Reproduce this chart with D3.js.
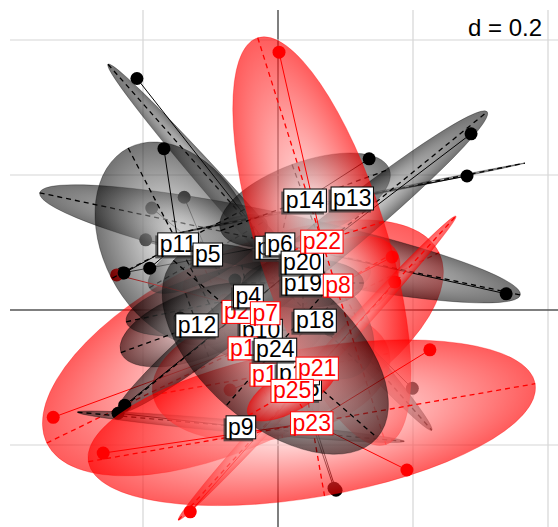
<!DOCTYPE html>
<html>
<head>
<meta charset="utf-8">
<script src="https://cdn.jsdelivr.net/npm/d3@7"></script>
<style>
  html, body { margin: 0; padding: 0; background: #fff; }
  svg { display: block; font-family: "Liberation Sans", Arial, sans-serif; }
</style>
</head>
<body>
<svg id="chart" width="558" height="527"></svg>
<script>
// Class factor levels and their colour
const groupNames = ["p1","p2","p3","p4","p5","p6","p7","p8","p9","p10","p11","p12","p13",
                    "p14","p15","p16","p17","p18","p19","p20","p21","p22","p23","p24","p25"];
const groupColours = ["red","red","black","black","black","black","red","red","black","black",
                      "black","black","black","black","black","black","red","black","black",
                      "black","red","red","red","black","red"];

// Class centroids (axis 1, axis 2)
const centreX = [-0.052,-0.061,-0.012,-0.044,-0.104, 0.003,-0.019, 0.089,-0.055,-0.025,
                 -0.148,-0.120, 0.110, 0.040, 0.030, 0.033,-0.010, 0.055, 0.037, 0.036,
                  0.058, 0.065, 0.050,-0.004, 0.021];
const centreY = [-0.056,-0.002, 0.093, 0.021, 0.083, 0.098,-0.004, 0.037,-0.173,-0.030,
                  0.098,-0.022, 0.166, 0.163,-0.093,-0.116,-0.095,-0.015, 0.040, 0.071,
                 -0.086, 0.102,-0.167,-0.058,-0.119];

// Inertia ellipses: semi-axes and orientation (degrees)
const ellipseA = [0.323,0.090,0.362,0.185,0.100,0.364,0.080,0.100,0.243,0.090,0.160,0.120,0.261,
                  0.133,0.060,0.045,0.178,0.104,0.090,0.353,0.305,0.316,0.336,0.200,0.075];
const ellipseB = [0.141,0.035,0.019,0.047,0.035,0.045,0.030,0.060,0.009,0.045,0.111,0.050,0.002,
                  0.056,0.015,0.020,0.096,0.067,0.037,0.033,0.013,0.096,0.110,0.111,0.030];
const ellipseAngle = [25.9,-30,-48.5,12,30,-12,20,30,-5.1,0,-62.5,20,11.4,
                      20,-72,-60,10,-45,0,39.1,47.6,-72.5,9.9,-41,30];

// Individuals of each class (star branches)
const groupPoints = [
  [[-0.333,-0.159],[0.120,0.050]],
  [[-0.0785,0.0148]],
  [[-0.209,0.343],[0.199,-0.116]],
  [[-0.0637,0.0444],[0.0178,0.0667]],
  [[-0.139,0.167],[-0.187,0.151],[-0.196,0.104]],
  [[0.338,0.024],[-0.230,0.055]],
  [[-0.239,0.052],[0.062,0.030]],
  [[0.169,0.0785]],
  [[-0.237,-0.153]],
  [[-0.0415,-0.0148]],
  [[-0.169,0.239],[-0.228,0.055],[-0.190,0.062]],
  [[-0.145,-0.0119]],
  [[0.280,0.1985]],
  [[0.135,0.224]],
  [[0.086,-0.267]],
  [[0.083,-0.264]],
  [[-0.071,-0.1185]],
  [[0.077,-0.0296]],
  [[0.0622,0.0519]],
  [[0.286,0.261],[-0.227,-0.141]],
  [[-0.130,-0.299],[0.173,0.0415]],
  [[0.0015,0.382]],
  [[-0.259,-0.212],[0.191,-0.237],[0.225,-0.059]],
  [[0.0326,-0.0919]],
  [[0.0326,-0.1037]]
];

// Order in which labels are stacked (last on top)
const labelOrder = ["p3","p19","p10","p2","p16","p17","p15","p1","p13","p14","p11","p5","p6",
                    "p20","p22","p4","p7","p8","p12","p18","p24","p21","p25","p23","p9"];

const gridX = [-0.4,-0.2,0,0.2,0.4];
const gridY = [-0.4,-0.2,0,0.2,0.4];
const gridLabel = "d = 0.2";

const svg = d3.select("#chart");
const x = d3.scaleLinear().domain([0, 0.2]).range([278, 413]);
const y = d3.scaleLinear().domain([0, 0.2]).range([310, 175]);
const len = v => x(v) - x(0);

const groups = groupNames.map((name, i) => ({
  name, colour: groupColours[i], cx: centreX[i], cy: centreY[i],
  a: ellipseA[i], b: ellipseB[i], angle: ellipseAngle[i], points: groupPoints[i]
}));

const defs = svg.append("defs");
defs.append("clipPath").attr("id", "panel")
  .append("rect").attr("x", 10).attr("y", 10).attr("width", 548).attr("height", 517);
["black","red"].forEach(c => {
  const g = defs.append("radialGradient").attr("id", "fade-" + c);
  g.append("stop").attr("offset", "0%").attr("stop-color", "#ffffff");
  g.append("stop").attr("offset", "100%").attr("stop-color", c);
});

const panel = svg.append("g").attr("clip-path", "url(#panel)");

// grid
panel.append("g").selectAll("line").data(gridX).join("line")
  .attr("x1", d => x(d)).attr("x2", d => x(d)).attr("y1", 10).attr("y2", 527)
  .attr("stroke", d => d === 0 ? "#555" : "#d6d6d6").attr("stroke-width", d => d === 0 ? 1.5 : 1.2);
panel.append("g").selectAll("line").data(gridY).join("line")
  .attr("y1", d => y(d)).attr("y2", d => y(d)).attr("x1", 10).attr("x2", 558)
  .attr("stroke", d => d === 0 ? "#555" : "#d6d6d6").attr("stroke-width", d => d === 0 ? 1.5 : 1.2);

// classes: ellipse, axes, stars, points
groups.forEach(gr => {
  const g = panel.append("g");
  const cx = x(gr.cx), cy = y(gr.cy);
  const rot = `translate(${cx},${cy}) rotate(${-gr.angle})`;
  g.append("ellipse")
    .attr("transform", rot)
    .attr("rx", len(gr.a)).attr("ry", Math.max(len(gr.b), 0.8))
    .attr("fill", `url(#fade-${gr.colour})`)
    .attr("fill-opacity", gr.colour === "red" ? 0.64 : 0.55)
    .attr("stroke", gr.colour).attr("stroke-opacity", 0.35).attr("stroke-width", 0.8);
  const ax = g.append("g").attr("transform", rot)
    .attr("stroke", gr.colour).attr("stroke-width", 1.3).attr("stroke-dasharray", "5,4");
  ax.append("line").attr("x1", -len(gr.a)).attr("x2", len(gr.a)).attr("y1", 0).attr("y2", 0);
  ax.append("line").attr("y1", -len(gr.b)).attr("y2", len(gr.b)).attr("x1", 0).attr("x2", 0);
  g.selectAll("line.star").data(gr.points).join("line").attr("class", "star")
    .attr("x1", cx).attr("y1", cy).attr("x2", d => x(d[0])).attr("y2", d => y(d[1]))
    .attr("stroke", gr.colour).attr("stroke-width", 1);
  g.selectAll("circle").data(gr.points).join("circle")
    .attr("cx", d => x(d[0])).attr("cy", d => y(d[1])).attr("r", 6.5)
    .attr("fill", gr.colour);
});

// labels (black ones carry a small offset shadow)
const byName = new Map(groups.map(g => [g.name, g]));
const lab = svg.append("g");
labelOrder.forEach(n => {
  const gr = byName.get(n);
  const g = lab.append("g").attr("transform", `translate(${x(gr.cx)},${y(gr.cy)})`);
  const s = g.append("rect").attr("fill", "#333").attr("fill-opacity", 0.75);
  const r = g.append("rect").attr("fill", "#fff").attr("stroke", gr.colour).attr("stroke-width", 1);
  const t = g.append("text").attr("text-anchor", "middle").attr("dy", "0.35em")
    .attr("font-size", 23).attr("fill", gr.colour).text(gr.name);
  const bb = t.node().getBBox();
  const box = { x: bb.x - 2, y: bb.y + 2, w: bb.width + 4, h: bb.height - 3 };
  r.attr("x", box.x).attr("y", box.y).attr("width", box.w).attr("height", box.h);
  if (gr.colour === "black") {
    s.attr("x", box.x - 2.5).attr("y", box.y + 2.5).attr("width", box.w).attr("height", box.h);
  } else {
    s.remove();
  }
});

svg.append("text").attr("x", 542).attr("y", 36).attr("text-anchor", "end")
  .attr("font-size", 24).attr("fill", "#000").text(gridLabel);
</script>
</body>
</html>
